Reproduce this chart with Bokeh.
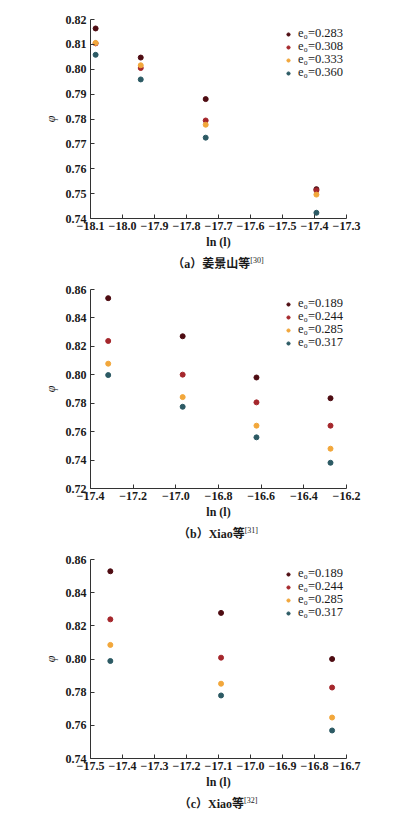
from bokeh.plotting import figure
from bokeh.models import (Range1d, FixedTicker, CustomJSTickFormatter,
                          Legend, LegendItem, ColumnDataSource, Div)
from bokeh.layouts import column
from bokeh.embed import file_html
from bokeh.resources import INLINE

# ---------------- data ----------------
# panel (a) 姜景山等[30]
a_x = [-18.084, -17.943, -17.740, -17.394]
a_labels = ["e₀=0.283", "e₀=0.308", "e₀=0.333", "e₀=0.360"]
a_y = [
    [0.8164, 0.8047, 0.7880, 0.7518],
    [0.8104, 0.8005, 0.7794, 0.7513],
    [0.8106, 0.8016, 0.7777, 0.7496],
    [0.8058, 0.7959, 0.7725, 0.7423],
]
a_xticks = [-18.1, -18.0, -17.9, -17.8, -17.7, -17.6, -17.5, -17.4, -17.3]
a_yticks = [0.74, 0.75, 0.76, 0.77, 0.78, 0.79, 0.80, 0.81, 0.82]

# panel (b) Xiao等[31]
b_x = [-17.317, -16.968, -16.622, -16.275]
b_labels = ["e₀=0.189", "e₀=0.244", "e₀=0.285", "e₀=0.317"]
b_y = [
    [0.8539, 0.8271, 0.7981, 0.7835],
    [0.8238, 0.8001, 0.7806, 0.7642],
    [0.8078, 0.7843, 0.7642, 0.7480],
    [0.7998, 0.7775, 0.7560, 0.7381],
]
b_xticks = [-17.4, -17.2, -17.0, -16.8, -16.6, -16.4, -16.2]
b_yticks = [0.72, 0.74, 0.76, 0.78, 0.80, 0.82, 0.84, 0.86]

# panel (c) Xiao等[32]
c_x = [-17.438, -17.092, -16.745]
c_labels = ["e₀=0.189", "e₀=0.244", "e₀=0.285", "e₀=0.317"]
c_y = [
    [0.8529, 0.8278, 0.8000],
    [0.8239, 0.8008, 0.7828],
    [0.8085, 0.7851, 0.7647],
    [0.7988, 0.7780, 0.7569],
]
c_xticks = [-17.5, -17.4, -17.3, -17.2, -17.1, -17.0, -16.9, -16.8, -16.7]
c_yticks = [0.74, 0.76, 0.78, 0.80, 0.82, 0.84, 0.86]

captions = [("（a）姜景山等", "[30]"), ("（b）Xiao等", "[31]"), ("（c）Xiao等", "[32]")]

colors = ["#4e0c12", "#a5272c", "#f2a73b", "#2c5a64"]

SERIF = "Liberation Serif"


def make_panel(xs, ys, labels, xticks, yticks):
    p = figure(width=396, height=252, output_backend="svg", toolbar_location=None,
               x_range=Range1d(xticks[0], xticks[-1]),
               y_range=Range1d(yticks[0], yticks[-1]),
               min_border_left=90, min_border_right=50,
               min_border_top=19, min_border_bottom=34)
    p.outline_line_color = None
    p.grid.visible = False
    p.background_fill_color = "white"
    p.border_fill_color = "white"

    for ax in (p.xaxis[0], p.yaxis[0]):
        ax.axis_line_color = "#333333"
        ax.axis_line_width = 1
        ax.major_tick_line_color = "#333333"
        ax.major_tick_in = 4
        ax.major_tick_out = 0
        ax.minor_tick_line_color = None
        ax.major_label_text_font = SERIF
        ax.major_label_text_font_size = "12px"
        ax.major_label_text_font_style = "bold"
        ax.major_label_text_color = "#1a1a1a"
        ax.axis_label_text_font = SERIF
        ax.axis_label_text_font_size = "12px"
        ax.axis_label_text_color = "#1a1a1a"

    p.xaxis[0].ticker = FixedTicker(ticks=xticks)
    p.yaxis[0].ticker = FixedTicker(ticks=yticks)
    p.xaxis[0].formatter = CustomJSTickFormatter(
        code="return tick.toFixed(1).replace('-', '\u2212');")
    p.yaxis[0].formatter = CustomJSTickFormatter(code="return tick.toFixed(2);")
    p.xaxis[0].major_label_standoff = 3
    p.yaxis[0].major_label_standoff = 4
    p.xaxis[0].axis_label = "ln (l)"
    p.xaxis[0].axis_label_text_font_style = "bold"
    p.xaxis[0].axis_label_standoff = 2
    p.yaxis[0].axis_label = "φ"
    p.yaxis[0].axis_label_text_font_style = "italic"
    p.yaxis[0].axis_label_standoff = 5

    for i, (yv, lab, col) in enumerate(zip(ys, labels, colors)):
        src = ColumnDataSource(dict(x=xs, y=yv))
        r = p.scatter("x", "y", source=src, size=5, color=col, line_color=col)
        # one single-row legend per series so rows sit 13 px apart
        leg = Legend(items=[LegendItem(label=lab, renderers=[r])],
                     location=(194, 177 - 13 * i), glyph_width=8, glyph_height=8,
                     label_standoff=6, padding=0, spacing=0, margin=0,
                     label_height=12, label_text_font=SERIF,
                     label_text_font_size="12.5px",
                     label_text_color="#1a1a1a", border_line_color=None,
                     background_fill_alpha=0)
        p.add_layout(leg, "center")
    return p


def make_caption(main, sup):
    return Div(text=f'{main}<sup style="font-size:8px;font-weight:normal;">{sup}</sup>',
               width=356, height=18, margin=(0, 0, 0, 40),
               styles={"text-align": "center", "width": "356px",
                       "font-family": "'Liberation Serif', 'Noto Sans CJK SC'",
                       "font-size": "12px", "font-weight": "bold",
                       "line-height": "18px", "color": "#1a1a1a"})


pa = make_panel(a_x, a_y, a_labels, a_xticks, a_yticks)
pb = make_panel(b_x, b_y, b_labels, b_xticks, b_yticks)
pc = make_panel(c_x, c_y, c_labels, c_xticks, c_yticks)

layout = column(pa, make_caption(*captions[0]),
                pb, make_caption(*captions[1]),
                pc, make_caption(*captions[2]), spacing=0)
open("out.html", "w").write(file_html(layout, INLINE))
